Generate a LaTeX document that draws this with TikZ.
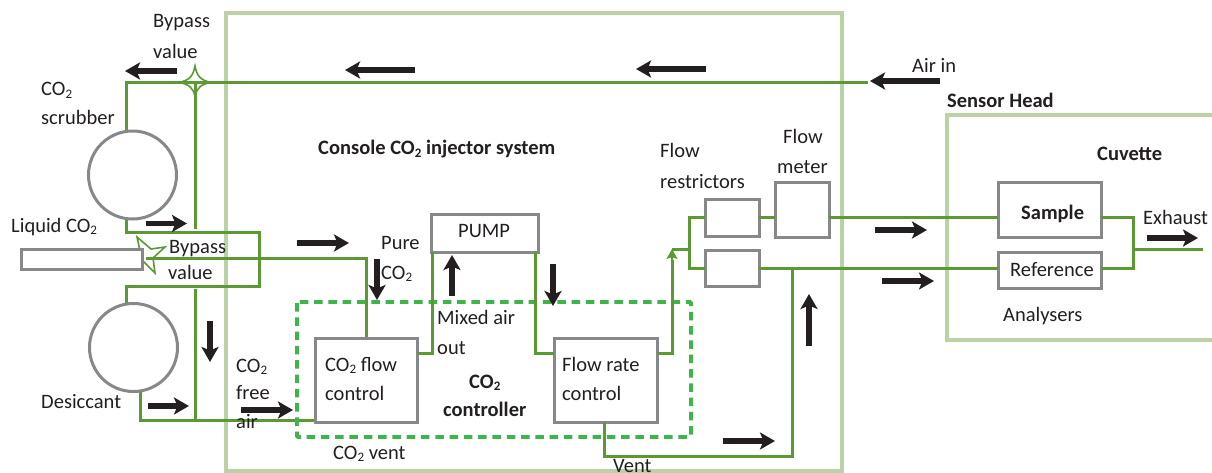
\documentclass[tikz,border=0pt]{standalone}
\usepackage{fontspec}
\setmainfont{Carlito}
\usetikzlibrary{arrows.meta,calc}
\definecolor{pipe}{HTML}{5B9A32}
\definecolor{frame}{HTML}{B9D3A4}
\definecolor{dashg}{HTML}{3DB54A}
\definecolor{boxg}{HTML}{87888B}
\definecolor{ink}{HTML}{231F20}
\newcommand{\cotwo}{CO\raisebox{-0.3ex}{\fontsize{13}{13}\selectfont 2}}
\newcommand{\cotwob}{CO\raisebox{-0.3ex}{\fontsize{13}{13}\selectfont\bfseries 2}}
\newcommand{\flowarrow}[3]{%
  \coordinate (#1s) at (#2); \coordinate (#1e) at (#3);
  \draw[flowarr] (#1s) -- (#1e);}
\tikzset{
  x=1pt,y=-1pt,
  panel/.style={draw=frame,line width=4.5pt,inner sep=0pt,outer sep=0pt},
  pipeline/.style={draw=pipe,line width=3pt,line join=miter},
  unit/.style={draw=boxg,line width=3pt,fill=white,inner sep=0pt,outer sep=0pt,minimum width=#1},
  flowarr/.style={draw=ink,line width=5.5pt,-{Stealth[length=15pt,width=17pt,inset=3.5pt]}},
  lbl/.style={anchor=base west,inner sep=0pt,text=ink,font=\fontsize{20.5}{20.5}\selectfont},
  blbl/.style={anchor=base west,inner sep=0pt,text=ink,font=\fontsize{20.5}{20.5}\selectfont\bfseries},
  valve/.style={draw=pipe,line width=1.6pt,fill=white,line join=miter},
}
\begin{document}
\begin{tikzpicture}
\clip (0,0) rectangle (1212,473);
\fill[white] (0,0) rectangle (1212,473);
% panels
\node[panel,minimum width=616pt,minimum height=458pt,anchor=north west] (console) at (226,13) {};
\node[panel,minimum width=275pt,minimum height=225pt,anchor=north west] (head) at (947,115) {};
% junction coordinates
\coordinate (topR) at (868,82.5);
\coordinate (topL) at (126,82.5);
\coordinate (busT) at (195,82.5);
\coordinate (busA) at (195,229);
\coordinate (busB) at (195,289);
\coordinate (busC) at (195,420);
\coordinate (splitT) at (689,217);
\coordinate (splitM) at (689,249.5);
\coordinate (splitB) at (689,268);
\coordinate (vent) at (792,268);
\coordinate (outJ) at (1133,249);
\coordinate (outE) at (1203,249);
% pipes (under units)
\draw[pipeline] (topR) -- (topL) -- (126,131);
\draw[pipeline] (busT) -- (busA);
\draw[pipeline] (busB) -- (busC);
\draw[pipeline] (126,219) -- (126,232) -- (259,232) -- (259,286) -- (126,286) -- (126,303);
\draw[pipeline] (140,391) -- (140,420) -- (314,420);
\draw[pipeline] (142,258) -- (366,258) -- (366,338);
% valves
\draw[valve] (195,66) .. controls (197,76) and (200,80) .. (211,82.5)
  .. controls (201,84) and (197,88) .. (195,96)
  .. controls (193,88) and (189,84) .. (179,82.5)
  .. controls (190,80) and (193,76) .. (195,66) -- cycle;
\draw[pipeline] (179,82.5) -- (211,82.5);
\draw[pipeline] (195,84) -- (195,96);
\draw[valve] (137,237) -- (151,249) -- (165,247) -- (153,258) -- (155,273) -- (142,260) -- cycle;
\draw[pipeline] (146,258) -- (180,258);
% units
\node[unit=0pt,circle,minimum size=88pt] (scrubber) at (132.5,175) {};
\node[unit=0pt,circle,minimum size=88pt] (desiccant) at (133.5,347.5) {};
\node[unit=121pt,minimum height=20pt,anchor=north west] (liquid) at (21,249) {};
\node[unit=102pt,minimum height=84pt,anchor=north west] (co2flow) at (315,338) {};
\node[unit=107pt,minimum height=38pt,anchor=north west] (pump) at (431,214) {};
\node[unit=103pt,minimum height=84pt,anchor=north west] (flowrate) at (554,338) {};
\node[unit=54pt,minimum height=36pt,anchor=north west] (restA) at (705,200) {};
\node[unit=54pt,minimum height=36pt,anchor=north west] (restB) at (705,250) {};
\node[unit=54pt,minimum height=54pt,anchor=north west] (meter) at (775,183) {};
\node[unit=103pt,minimum height=54pt,anchor=north west] (sample) at (998,183) {};
\node[unit=103pt,minimum height=36pt,anchor=north west] (reference) at (998,252) {};
% dashed controller
\draw[dashg,line width=3.8pt,dash pattern=on 8.5pt off 5.8pt,rounded corners=1pt] (297,302) rectangle (691,437);
% pipes between units
\draw[pipeline] (co2flow.east |- 0,353.5) -- (432,353.5) -- (432,252);
\draw[pipeline] (535,252) -- (535,353.5) -- (flowrate.west |- 0,353.5);
\draw[pipeline] (flowrate.east |- 0,353.5) -- (672,353.5) -- (672,260);
\draw[draw=pipe,line width=2.6pt,-{Stealth[length=10pt,width=11pt,inset=2pt]}] (672,262) -- (672,249);
\draw[pipeline] (672,249.5) -- (splitM);
\draw[pipeline] (restA.west |- splitT) -- (splitT) -- (splitB) -- (restB.west |- splitB);
\draw[pipeline] (restA.east |- splitT) -- (meter.west |- splitT);
\draw[pipeline] (meter.east |- splitT) -- (sample.west |- splitT);
\draw[pipeline] (restB.east |- splitB) -- (reference.west |- splitB);
\draw[pipeline] (flowrate.south -| 604,0) -- (604,456) -- (792,456) -- (vent);
\draw[pipeline] (sample.east |- splitT) -- (1133,217) -- (1133,268) -- (reference.east |- splitB);
\draw[pipeline] (outJ) -- (outE);
% arrows
\flowarrow{a}{177,71}{125,71}
\flowarrow{b}{415,70}{345,70}
\flowarrow{c}{706,69}{636,69}
\flowarrow{d}{940,81}{870,81}
\flowarrow{f}{146,223.5}{187,223.5}
\flowarrow{g}{297,243}{349,243}
\flowarrow{h}{210,321}{210,362}
\flowarrow{i}{148,406}{189,406}
\flowarrow{j}{241,410}{293,410}
\flowarrow{k}{377,259}{377,300}
\flowarrow{l}{452,296}{452,255}
\flowarrow{m}{553,264}{553,306}
\flowarrow{n}{723,441}{775,441}
\flowarrow{o}{809,346}{809,294}
\flowarrow{p}{875,230}{927,230}
\flowarrow{q}{882,281}{934,281}
\flowarrow{r}{1147,238}{1198,238}
% labels
\node[lbl] (t1) at (153,28) {Bypass};
\node[lbl] (t2) at (153,59) {value};
\node[lbl] (t3) at (41,96) {\cotwo};
\node[lbl] (t4) at (41,125) {scrubber};
\node[lbl] (t5) at (11,232) {Liquid \cotwo};
\node[lbl] (t6) at (169,253) {Bypass};
\node[lbl] (t7) at (168,279) {value};
\node[lbl] (t8) at (41,408) {Desiccant};
\node[lbl] (t9) at (236,372) {\cotwo};
\node[lbl] (t10) at (236,399) {free};
\node[lbl] (t11) at (236,428) {air};
\node[lbl] (t12) at (381,249) {Pure};
\node[lbl] (t13) at (381,279) {\cotwo};
\node[lbl] (t14) at (458,237) {PUMP};
\node[lbl] (t15) at (437,324) {Mixed air};
\node[lbl] (t16) at (437,354) {out};
\node[lbl] (t17) at (325,371) {\cotwo\ flow};
\node[lbl] (t18) at (325,400) {control};
\node[lbl] (t19) at (562,371) {Flow rate};
\node[lbl] (t20) at (562,400) {control};
\node[blbl] (t21) at (469,388) {\cotwob};
\node[blbl] (t22) at (443,416) {controller};
\node[lbl] (t23) at (333,459) {\cotwo\ vent};
\node[lbl] (t24) at (613,472) {Vent};
\node[lbl] (t25) at (660,158) {Flow};
\node[lbl] (t26) at (660,189) {restrictors};
\node[lbl] (t27) at (783,144) {Flow};
\node[lbl] (t28) at (777,174) {meter};
\node[lbl] (t29) at (912,73) {Air in};
\node[blbl] (t30) at (947,108) {Sensor Head};
\node[blbl] (t31) at (1097,161) {Cuvette};
\node[blbl] (t32) at (1021,219) {Sample};
\node[lbl] (t33) at (1010,276) {Reference};
\node[lbl] (t34) at (1003,321) {Analysers};
\node[lbl] (t35) at (1143,224) {Exhaust};
\node[blbl] (t36) at (318,155) {Console \cotwob\ injector system};
\end{tikzpicture}
\end{document}
